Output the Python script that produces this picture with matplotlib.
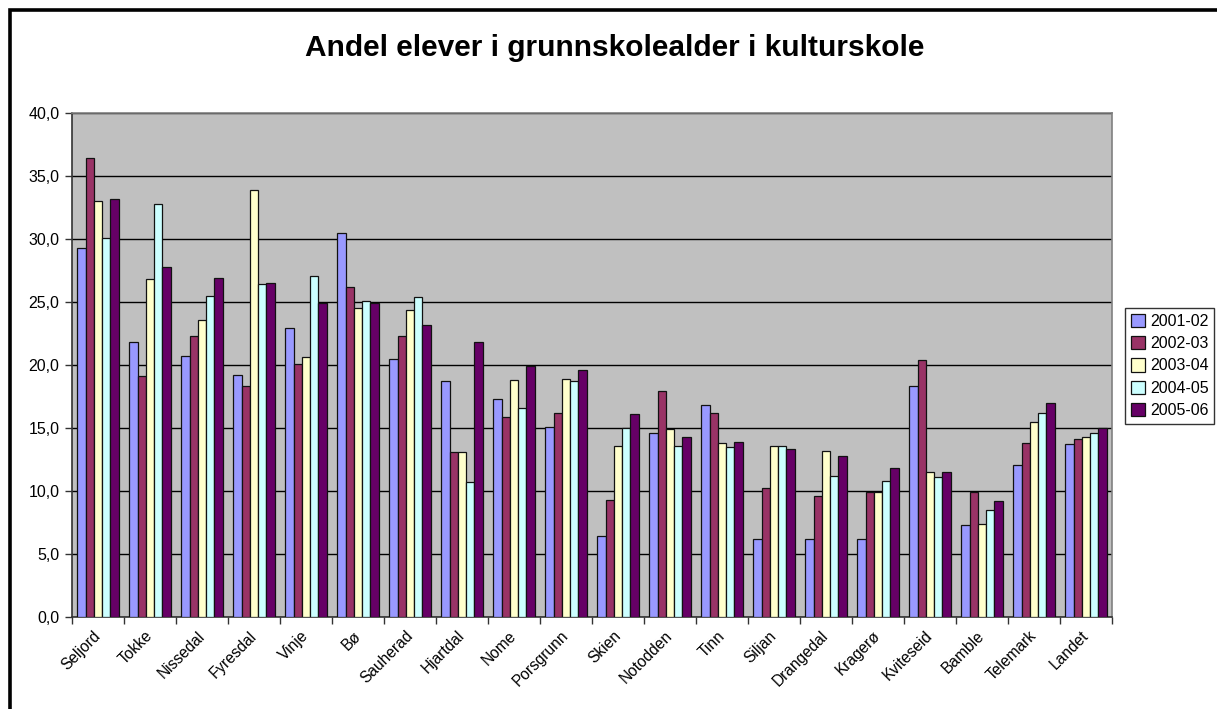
import matplotlib
matplotlib.use("Agg")
import matplotlib.pyplot as plt
import numpy as np
from matplotlib.patches import Rectangle
from matplotlib.ticker import FixedLocator
from matplotlib.transforms import ScaledTranslation

categories = ["Seljord", "Tokke", "Nissedal", "Fyresdal", "Vinje", "Bø", "Sauherad",
              "Hjartdal", "Nome", "Porsgrunn", "Skien", "Notodden", "Tinn", "Siljan",
              "Drangedal", "Kragerø", "Kviteseid", "Bamble", "Telemark", "Landet"]
series_names = ["2001-02", "2002-03", "2003-04", "2004-05", "2005-06"]
s2001 = [29.3, 21.8, 20.7, 19.2, 22.9, 30.5, 20.5, 18.7, 17.3, 15.1, 6.4, 14.6, 16.8, 6.2, 6.2, 6.2, 18.3, 7.3, 12.1, 13.7]
s2002 = [36.4, 19.1, 22.3, 18.3, 20.1, 26.2, 22.3, 13.1, 15.9, 16.2, 9.3, 17.9, 16.2, 10.2, 9.6, 9.9, 20.4, 9.9, 13.8, 14.1]
s2003 = [33.0, 26.8, 23.6, 33.9, 20.6, 24.5, 24.4, 13.1, 18.8, 18.9, 13.6, 14.9, 13.8, 13.6, 13.2, 9.9, 11.5, 7.4, 15.5, 14.3]
s2004 = [30.1, 32.8, 25.5, 26.4, 27.1, 25.1, 25.4, 10.7, 16.6, 18.7, 15.0, 13.6, 13.5, 13.6, 11.2, 10.8, 11.1, 8.5, 16.2, 14.6]
s2005 = [33.2, 27.8, 26.9, 26.5, 24.9, 24.9, 23.2, 21.8, 19.9, 19.6, 16.1, 14.3, 13.9, 13.3, 12.8, 11.8, 11.5, 9.2, 17.0, 15.0]
y_ticks = [0, 5, 10, 15, 20, 25, 30, 35, 40]

colors = ["#9999FF", "#993366", "#FFFFCC", "#CCFFFF", "#660066"]
series = [s2001, s2002, s2003, s2004, s2005]

plt.rcParams['font.family'] = ['Liberation Sans', 'DejaVu Sans']

W, H = 1217, 709
fig = plt.figure(figsize=(W / 100, H / 100), dpi=100)
fig.patch.set_facecolor("white")

# outer frame (cropped at right and bottom)
fig.add_artist(Rectangle((9.5 / W, -0.05), 1.2, (H - 9.5) / H + 0.05,
                         transform=fig.transFigure, fill=False,
                         edgecolor="black", linewidth=2.6))

left, right, top, bottom = 72, 1112, 113, 617
ax = fig.add_axes([left / W, 1 - bottom / H, (right - left) / W, (bottom - top) / H])
ax.set_facecolor("#C0C0C0")

x = np.arange(len(categories))
bw = 0.16
for i, (vals, c, name) in enumerate(zip(series, colors, series_names)):
    ax.bar(x - 0.4 + bw * (i + 0.5), vals, width=bw, color=c, edgecolor="#111111",
           linewidth=0.9, label=name, zorder=3)

ax.set_xlim(-0.5, len(categories) - 0.5)
ax.set_ylim(0, 40)
ax.yaxis.set_major_locator(FixedLocator(y_ticks))
ax.set_yticklabels([f"{v:.1f}".replace(".", ",") for v in y_ticks], fontsize=11.5)
ax.grid(axis="y", color="black", linewidth=1.0, zorder=1)
ax.set_axisbelow(True)

ax.xaxis.set_major_locator(FixedLocator(np.arange(-0.5, len(categories), 1.0)))
ax.set_xticklabels([])
ax.xaxis.set_minor_locator(FixedLocator(x))
ax.set_xticklabels(categories, minor=True, rotation=45, ha="right", va="top",
                   rotation_mode="anchor", fontsize=11.2)
ax.tick_params(axis="x", which="minor", length=0, pad=8)
ax.tick_params(axis="x", which="major", length=5, width=1, color="#333333", direction="out")
ax.tick_params(axis="y", length=5, width=1, color="#333333", direction="out", pad=4)
shift = ScaledTranslation(-5 / 100, 0, fig.dpi_scale_trans)
for lbl in ax.get_xticklabels(minor=True):
    lbl.set_transform(lbl.get_transform() + shift)

for s in ["top", "right"]:
    ax.spines[s].set_color("#808080")
    ax.spines[s].set_linewidth(1.2)
for s in ["left", "bottom"]:
    ax.spines[s].set_color("#333333")
    ax.spines[s].set_linewidth(1.2)

fig.text(615 / W, 1 - 48 / H, "Andel elever i grunnskolealder i kulturskole",
         ha="center", va="center", fontsize=21.5, fontweight="bold")

leg = fig.legend(loc="upper left", bbox_to_anchor=(1125 / W, 1 - 308 / H),
                 fontsize=11.5, frameon=True, fancybox=False, edgecolor="black",
                 borderpad=0.35, labelspacing=0.45, handlelength=0.9, handleheight=0.9,
                 handletextpad=0.3, borderaxespad=0)
leg.get_frame().set_linewidth(1.0)

fig.savefig("out.png", dpi=100)
